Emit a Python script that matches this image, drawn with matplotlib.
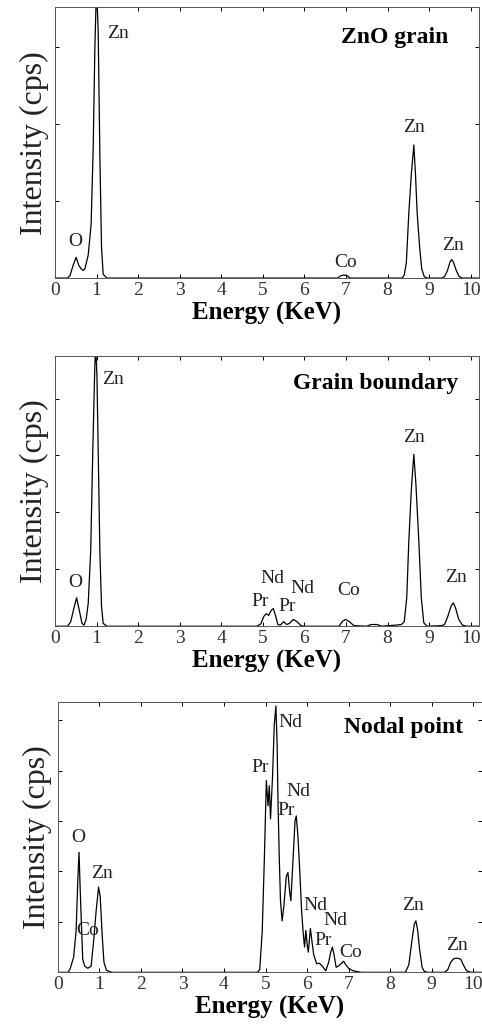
import matplotlib
matplotlib.use("Agg")
import matplotlib.pyplot as plt

plt.rcParams['font.family'] = ['Liberation Serif', 'DejaVu Serif']

# EDS spectra (energy in keV, intensity in tick units)
zno_energy = [0.0, 0.30, 0.36, 0.44, 0.51, 0.57, 0.63, 0.68, 0.72, 0.80, 0.87, 0.92, 0.96, 1.00,
              1.04, 1.08, 1.12, 1.16, 1.25, 6.80, 6.87, 6.95, 7.03, 7.10, 8.35, 8.40, 8.45, 8.51,
              8.57, 8.63, 8.67, 8.71, 8.77, 8.82, 8.88, 8.95, 9.30, 9.37, 9.44, 9.50, 9.54, 9.58,
              9.65, 9.72, 9.80, 10.2]
zno_counts = [0.0, 0.0, 0.03, 0.17, 0.27, 0.17, 0.12, 0.10, 0.12, 0.30, 0.70, 1.70, 3.00, 3.80,
              3.20, 1.60, 0.40, 0.05, 0.0, 0.0, 0.03, 0.04, 0.03, 0.0, 0.0, 0.04, 0.20, 0.85,
              1.35, 1.73, 1.35, 0.85, 0.40, 0.12, 0.02, 0.0, 0.0, 0.02, 0.10, 0.21, 0.24, 0.21,
              0.10, 0.02, 0.0, 0.0]

gb_energy = [0.0, 0.30, 0.38, 0.45, 0.52, 0.58, 0.65, 0.70, 0.75, 0.80, 0.86, 0.91, 0.96, 0.98,
             1.01, 1.04, 1.08, 1.12, 1.16, 1.25, 4.85, 4.95, 5.02, 5.08, 5.14, 5.20, 5.25, 5.30,
             5.36, 5.42, 5.50, 5.57, 5.64, 5.73, 5.82, 5.92, 6.00, 6.83, 6.92, 6.99, 7.08, 7.19,
             7.50, 7.60, 7.75, 7.85, 8.20, 8.33, 8.40, 8.46, 8.51, 8.57, 8.63, 8.68, 8.75, 8.81,
             8.87, 8.95, 9.30, 9.37, 9.45, 9.53, 9.58, 9.63, 9.71, 9.80, 9.90, 10.2]
gb_counts = [0.0, 0.0, 0.08, 0.30, 0.50, 0.30, 0.05, 0.02, 0.12, 0.40, 1.33, 3.09, 4.60, 4.90,
             4.40, 3.09, 1.33, 0.35, 0.05, 0.0, 0.0, 0.04, 0.17, 0.22, 0.19, 0.28, 0.31, 0.20,
             0.03, 0.02, 0.08, 0.03, 0.05, 0.12, 0.08, 0.01, 0.0, 0.0, 0.09, 0.12, 0.08, 0.01,
             0.0, 0.03, 0.03, 0.0, 0.02, 0.03, 0.08, 0.50, 1.50, 2.40, 3.02, 2.50, 1.50, 0.50,
             0.06, 0.0, 0.01, 0.03, 0.18, 0.36, 0.41, 0.33, 0.12, 0.02, 0.0, 0.0]

nodal_energy = [0.0, 0.25, 0.30, 0.38, 0.44, 0.48, 0.51, 0.54, 0.57, 0.60, 0.65, 0.72, 0.80, 0.86,
                0.92, 0.98, 1.02, 1.07, 1.11, 1.17, 1.30, 4.80, 4.86, 4.92, 4.97, 5.02, 5.06, 5.09,
                5.12, 5.17, 5.21, 5.25, 5.28, 5.30, 5.33, 5.36, 5.40, 5.44, 5.50, 5.54, 5.58, 5.61,
                5.66, 5.71, 5.74, 5.78, 5.82, 5.87, 5.91, 5.94, 5.97, 6.01, 6.03, 6.08, 6.12, 6.16,
                6.23, 6.30, 6.37, 6.45, 6.52, 6.57, 6.61, 6.65, 6.70, 6.75, 6.83, 6.88, 6.93, 7.00,
                7.11, 7.30, 8.35, 8.38, 8.45, 8.52, 8.58, 8.62, 8.66, 8.71, 8.77, 8.82, 8.90, 9.30,
                9.38, 9.46, 9.53, 9.62, 9.70, 9.76, 9.84, 9.95, 10.2]
nodal_counts = [0.0, 0.0, 0.08, 0.30, 0.83, 1.80, 2.38, 1.60, 0.90, 0.25, 0.12, 0.08, 0.12, 0.60,
                1.20, 1.69, 1.50, 0.70, 0.20, 0.04, 0.0, 0.0, 0.05, 0.80, 2.20, 3.80, 3.30, 3.70,
                3.04, 3.90, 4.90, 5.28, 4.50, 3.40, 2.30, 1.42, 1.02, 1.30, 1.90, 1.98, 1.60, 1.42,
                2.20, 3.00, 3.10, 2.70, 2.08, 1.20, 0.75, 0.50, 0.83, 0.50, 0.40, 0.87, 0.60, 0.35,
                0.17, 0.18, 0.12, 0.03, 0.20, 0.40, 0.50, 0.35, 0.10, 0.12, 0.18, 0.22, 0.15, 0.08,
                0.03, 0.0, 0.0, 0.02, 0.15, 0.60, 0.95, 1.02, 0.85, 0.45, 0.10, 0.02, 0.0, 0.0,
                0.04, 0.20, 0.27, 0.28, 0.26, 0.15, 0.03, 0.0, 0.0]

# peak labels: (text, energy, height, alignment)
zno_labels = [("Zn", 1.25, 3.18, 'left'), ("O", 0.48, 0.47, 'center'), ("Co", 6.99, 0.20, 'center'),
              ("Zn", 8.63, 1.96, 'center'), ("Zn", 9.56, 0.43, 'center')]
gb_labels = [("Zn", 1.13, 4.33, 'left'), ("O", 0.48, 0.77, 'center'), ("Nd", 5.23, 0.84, 'center'),
             ("Pr", 4.94, 0.44, 'center'), ("Pr", 5.59, 0.35, 'center'), ("Nd", 5.95, 0.67, 'center'),
             ("Co", 7.07, 0.63, 'center'), ("Zn", 8.63, 3.32, 'center'), ("Zn", 9.64, 0.86, 'center')]
nodal_labels = [("Nd", 5.32, 4.96, 'left'), ("Pr", 4.86, 4.07, 'center'), ("Nd", 5.78, 3.59, 'center'),
                ("Pr", 5.50, 3.20, 'center'), ("O", 0.50, 2.68, 'center'), ("Zn", 1.05, 1.95, 'center'),
                ("Co", 0.72, 0.83, 'center'), ("Nd", 6.19, 1.33, 'center'), ("Nd", 6.68, 1.02, 'center'),
                ("Pr", 6.38, 0.64, 'center'), ("Co", 7.05, 0.40, 'center'), ("Zn", 8.55, 1.33, 'center'),
                ("Zn", 9.61, 0.53, 'center')]

titles = ["ZnO grain", "Grain boundary", "Nodal point"]
xticks = list(range(11))

fig = plt.figure(figsize=(4.82, 10.30), dpi=100)
panels = [
    ([0.114, 0.730, 0.880, 0.263], zno_energy, zno_counts, zno_labels, 3.52, (9.45, 3.13)),
    ([0.114, 0.392, 0.880, 0.262], gb_energy, gb_counts, gb_labels, 4.74, (9.71, 4.26)),
    ([0.120, 0.056, 0.879, 0.262], nodal_energy, nodal_counts, nodal_labels, 5.35, (9.75, 4.86)),
]

for (rect, e, c, labels, ytop, tpos), title in zip(panels, titles):
    ax = fig.add_axes(rect)
    ax.plot(e, c, color='black', lw=0.9)
    ax.set_xlim(0, 10.2)
    ax.set_ylim(0, ytop)
    ax.set_xticks(xticks)
    ax.set_xticklabels([str(t) for t in xticks], fontsize=14, color='#333333')
    ax.set_yticks(range(1, int(ytop) + 1))
    ax.set_yticklabels([])
    ax.tick_params(direction='in', top=True, right=True, length=3, width=0.7, pad=3)
    for s in ax.spines.values():
        s.set_linewidth(0.7)
        s.set_color('#555555')
    ax.set_ylabel("Intensity (cps)", fontsize=23, color='#222222', labelpad=1)
    ax.set_xlabel("Energy (KeV)", fontsize=18, fontweight='bold', labelpad=2)
    for txt, x, y, ha in labels:
        ax.text(x, y, txt, fontsize=14, ha=ha, va='center', color='#222222')
    ax.text(tpos[0], tpos[1], title, fontsize=17, fontweight='bold', ha='right', va='center')

fig.savefig("out.png", dpi=100)
